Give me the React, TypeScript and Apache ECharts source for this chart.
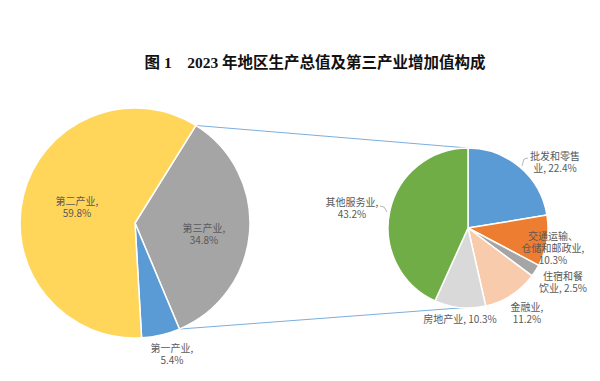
import React, { useEffect, useRef } from "react";
import * as echarts from "echarts";

// Primary pie (GDP composition, %)
const mainNames = ["第三产业", "第一产业", "第二产业"];
const mainValues = [34.8, 5.4, 59.8];
// Secondary pie (tertiary industry composition, %)
const subNames = ["批发和零售业", "交通运输、仓储和邮政业", "住宿和餐饮业", "金融业", "房地产业", "其他服务业"];
const subValues = [22.4, 10.3, 2.5, 11.2, 10.3, 43.2];

const titleText = "图 1　2023 年地区生产总值及第三产业增加值构成";

export default function App() {
  const ref = useRef<HTMLDivElement>(null);
  useEffect(() => {
    if (!ref.current) return;
    const chart = echarts.init(ref.current, null, { renderer: "svg" });

    const mainColors = ["#A5A5A5", "#5B9BD5", "#FFD55A"];
    const subColors = ["#5B9BD5", "#ED7D31", "#A5A5A5", "#F8CBAD", "#D9D9D9", "#70AD47"];

    const L = { cx: 135, cy: 223, r: 115, start: 58 };
    const R = { cx: 468, cy: 228, r: 80, start: 90 };

    // label text templates (line breaks)
    const mainLabel = (i: number) => `${mainNames[i]},\n${mainValues[i]}%`;
    const subBreaks: Record<string, string> = {
      "批发和零售业": "批发和零售\n业, ",
      "交通运输、仓储和邮政业": "交通运输、\n仓储和邮政业,\n",
      "住宿和餐饮业": "住宿和餐\n饮业, ",
      "金融业": "金融业,\n",
      "房地产业": "房地产业, ",
      "其他服务业": "其他服务业,\n",
    };
    const subLabel = (i: number) => `${subBreaks[subNames[i]]}${subValues[i].toFixed(1)}%`;

    const mainLabelPos = [
      [204, 233],
      [172, 353],
      [77, 206],
    ];
    const subLabelPos = [
      [555, 161.5],
      [553, 247],
      [563, 281.5],
      [527, 312],
      [460, 318],
      [352, 207],
    ];

    // connector lines derived from data
    const sumMain = mainValues.reduce((a, b) => a + b, 0);
    const sumSub = subValues.reduce((a, b) => a + b, 0);
    const pt = (c: any, deg: number) => [
      c.cx + c.r * Math.cos((deg * Math.PI) / 180),
      c.cy - c.r * Math.sin((deg * Math.PI) / 180),
    ];
    const lA = pt(L, L.start);
    const lB = pt(L, L.start - (mainValues[0] / sumMain) * 360);
    const rA = pt(R, R.start);
    const cum4 = subValues.slice(0, 4).reduce((a, b) => a + b, 0);
    const rB = pt(R, R.start - (cum4 / sumSub) * 360);

    const labelStyle = {
      color: "#595959",
      fontSize: 10,
      lineHeight: 12,
      fontFamily: "'Noto Sans CJK SC', 'Noto Sans', sans-serif",
    };

    chart.setOption({
      animation: false,
      backgroundColor: "#ffffff",
      graphic: [
        {
          type: "text",
          x: 315,
          y: 62,
          style: {
            text: titleText,
            align: "center",
            verticalAlign: "middle",
            fontSize: 15.5,
            fontWeight: "bold",
            fontFamily: "'Liberation Serif', 'Noto Sans CJK SC', serif",
            fill: "#111111",
          },
        },
        {
          type: "line",
          shape: { x1: lA[0], y1: lA[1], x2: rA[0], y2: rA[1] },
          style: { stroke: "#7AAEDC", lineWidth: 1 },
          z: 1,
        },
        {
          type: "line",
          shape: { x1: lB[0], y1: lB[1], x2: rB[0], y2: rB[1] },
          style: { stroke: "#7AAEDC", lineWidth: 1 },
          z: 1,
        },
        {
          type: "polyline",
          shape: { points: [[522, 166], [524, 159], [528, 158]] },
          style: { stroke: "#A6A6A6", lineWidth: 0.8, fill: null },
        },
        {
          type: "polyline",
          shape: { points: [[380, 206], [384, 207], [387, 212]] },
          style: { stroke: "#A6A6A6", lineWidth: 0.8, fill: null },
        },
      ],
      series: [
        {
          type: "pie",
          center: [L.cx, L.cy],
          radius: [0, L.r],
          startAngle: L.start,
          clockwise: true,
          z: 2,
          itemStyle: { borderColor: "#ffffff", borderWidth: 1.5 },
          label: { show: true, position: "inside", formatter: (p: any) => mainLabel(p.dataIndex), ...labelStyle },
          labelLine: { show: false },
          labelLayout: (p: any) => ({
            x: mainLabelPos[p.dataIndex][0],
            y: mainLabelPos[p.dataIndex][1],
            align: "center",
            verticalAlign: "middle",
          }),
          emphasis: { disabled: true },
          data: mainNames.map((n, i) => ({ name: n, value: mainValues[i], itemStyle: { color: mainColors[i] } })),
        },
        {
          type: "pie",
          center: [R.cx, R.cy],
          radius: [0, R.r],
          startAngle: R.start,
          clockwise: true,
          z: 2,
          itemStyle: { borderColor: "#ffffff", borderWidth: 1.5 },
          label: { show: true, position: "inside", formatter: (p: any) => subLabel(p.dataIndex), ...labelStyle },
          labelLine: { show: false },
          labelLayout: (p: any) => ({
            x: subLabelPos[p.dataIndex][0],
            y: subLabelPos[p.dataIndex][1],
            align: "center",
            verticalAlign: "middle",
          }),
          emphasis: { disabled: true },
          data: subNames.map((n, i) => ({ name: n, value: subValues[i], itemStyle: { color: subColors[i] } })),
        },
      ],
    });
    return () => chart.dispose();
  }, []);
  return (
    <div
      ref={ref}
      style={{ position: "fixed", left: 0, top: 0, width: 600, height: 381, background: "#fff" }}
    />
  );
}
